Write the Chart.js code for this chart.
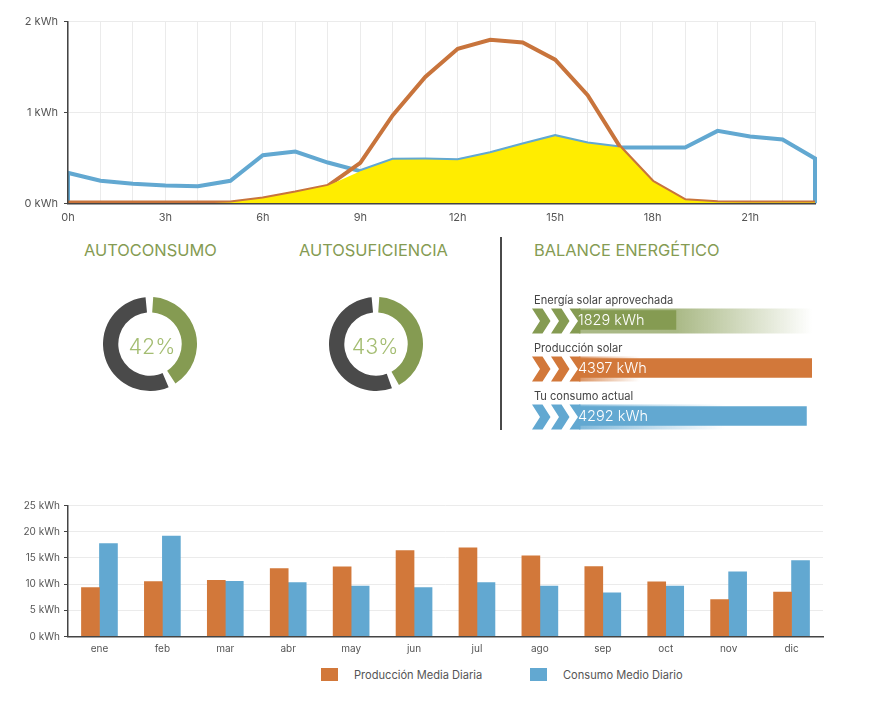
<!DOCTYPE html>
<html>
<head>
<meta charset="utf-8">
<script src="https://cdn.jsdelivr.net/npm/chart.js@4"></script>
<style>
  html, body { margin: 0; padding: 0; background: #fff; }
  #page { position: relative; width: 869px; height: 708px; overflow: hidden; font-family: Inter, sans-serif; }
  canvas { position: absolute; }
  .head { position: absolute; top: 241px; font-size: 16.4px; line-height: 19px; color: #859b52; white-space: nowrap; }
  .pct { position: absolute; top: 331px; width: 80px; text-align: center; font-size: 21.5px; line-height: 30px; font-weight: 300; color: #a4bd72; }
  #divider { position: absolute; left: 500px; top: 237px; width: 2px; height: 193px; background: #4a4a4a; }
  .lg { position: absolute; top: 668px; font-size: 11.1px; line-height: 14px; color: #555; white-space: nowrap; }
  .lg i { display: inline-block; width: 17px; height: 13px; margin-right: 16px; vertical-align: top; }
</style>
</head>
<body>
<div id="page">
  <canvas id="hourly" width="869" height="235" style="left:0;top:0"></canvas>

  <div class="head" style="left:84px">AUTOCONSUMO</div>
  <div class="head" style="left:299px">AUTOSUFICIENCIA</div>
  <div class="head" style="left:534px">BALANCE ENERGÉTICO</div>

  <canvas id="donut1" width="94" height="94" style="left:103px;top:297px"></canvas>
  <canvas id="donut2" width="94" height="94" style="left:329px;top:297px"></canvas>
  <div class="pct" style="left:112px">42%</div>
  <div class="pct" style="left:335px">43%</div>

  <div id="divider"></div>
  <canvas id="balance" width="295" height="164" style="left:525px;top:286px"></canvas>

  <canvas id="monthly" width="869" height="180" style="left:0;top:480px"></canvas>
  <div id="legend"></div>
</div>

<script>
Chart.defaults.animation = false;
Chart.defaults.responsive = false;
Chart.defaults.font.family = "Inter, sans-serif";
Chart.defaults.color = "#555";
Chart.defaults.plugins.legend.display = false;
Chart.defaults.plugins.tooltip.enabled = false;

const GREEN = "#859b52", ORANGE = "#d2783a", BLUE = "#62a8d1", DARK = "#4a4a4a";
const GRID = "#ebebeb", AXIS = "#444";

// hourly profile, kWh
const consumo = [0.337, 0.25, 0.216, 0.198, 0.19, 0.25, 0.53, 0.57, 0.45, 0.355, 0.48, 0.483,
  0.476, 0.553, 0.648, 0.74, 0.66, 0.615, 0.615, 0.615, 0.798, 0.736, 0.703, 0.495];
const produccion = [0.01, 0.01, 0.01, 0.01, 0.01, 0.01, 0.055, 0.12, 0.194, 0.447, 0.97, 1.39,
  1.7, 1.8, 1.77, 1.58, 1.19, 0.62, 0.24, 0.037, 0.015, 0.01, 0.01, 0.01];
const aprovechada = [0, 0, 0, 0, 0, 0.01, 0.055, 0.12, 0.194, 0.355, 0.48, 0.483,
  0.476, 0.553, 0.648, 0.74, 0.66, 0.615, 0.24, 0.037, 0.015, 0.01, 0.01, 0.01];

const toXY = (list) => list.map((y, x) => ({ x, y }));

new Chart(document.getElementById("hourly"), {
  type: "line",
  data: {
    datasets: [
      { data: toXY(aprovechada), borderWidth: 0, backgroundColor: "#ffed00", fill: "origin", pointRadius: 0 },
      { data: toXY(produccion), borderColor: "#c8743c", borderWidth: 4, pointRadius: 0 },
      {
        // the consumption line drops to zero at both ends
        data: [{ x: 0, y: 0 }, ...toXY(consumo), { x: 23, y: 0 }],
        borderColor: BLUE, borderWidth: 4, pointRadius: 0,
        clip: { left: 0, top: 0, right: 4, bottom: 0 },
      },
    ],
  },
  options: {
    layout: { padding: { top: 21.5, right: 54 } },
    scales: {
      x: {
        type: "linear", min: 0, max: 23,
        afterFit: (s) => { s.height = 31.5; },
        border: { color: AXIS, width: 1.5, z: 1 },
        grid: { color: GRID, drawTicks: false },
        ticks: {
          stepSize: 1, autoSkip: false, maxRotation: 0, padding: 8, font: { size: 11 },
          callback: (v) => (v % 3 === 0 ? v + "h" : ""),
        },
      },
      y: {
        min: 0, max: 2,
        afterFit: (s) => { s.width = 68; },
        border: { color: AXIS, width: 1.5, z: 1 },
        grid: { color: GRID, tickColor: AXIS, tickLength: 4 },
        ticks: { stepSize: 1, padding: 6, font: { size: 11 }, callback: (v) => v + " kWh" },
      },
    },
  },
});

function drawDonut(id, pct) {
  new Chart(document.getElementById(id), {
    type: "doughnut",
    data: { datasets: [{ data: [pct, 100 - pct], backgroundColor: [GREEN, DARK], borderWidth: 0, spacing: 4 }] },
    options: { cutout: "66%" },
  });
}
drawDonut("donut1", 42);
drawDonut("donut2", 43);

// chevrons, faded strips and bar captions for the balance bars
const FADE = [
  { rgb: "133,155,82", from: 676, to: 812, alpha: 0.7 },
  { rgb: "210,120,58", from: 579, to: 640, alpha: 0.8 },
  { rgb: "98,168,209", from: 579, to: 725, alpha: 0.8 },
];
const CANVAS_X = 525;
const balanceDeco = {
  id: "balanceDeco",
  beforeDatasetsDraw(chart) {
    const { ctx } = chart;
    chart.getDatasetMeta(0).data.forEach((bar, i) => {
      const top = bar.y - 11.5;
      const h = 25;
      const f = FADE[i];
      const g = ctx.createLinearGradient(f.from - CANVAS_X, 0, f.to - CANVAS_X, 0);
      g.addColorStop(0, `rgba(${f.rgb},${f.alpha})`);
      g.addColorStop(1, `rgba(${f.rgb},0)`);
      ctx.fillStyle = g;
      ctx.fillRect(chart.chartArea.left, top, chart.chartArea.width, h);

      ctx.fillStyle = `rgb(${f.rgb})`;
      [532, 551].forEach((x0) => {
        const x = x0 - CANVAS_X;
        ctx.beginPath();
        ctx.moveTo(x, top);
        ctx.lineTo(x + 10.5, top);
        ctx.lineTo(x + 18.5, top + h / 2);
        ctx.lineTo(x + 10.5, top + h);
        ctx.lineTo(x, top + h);
        ctx.lineTo(x + 8, top + h / 2);
        ctx.closePath();
        ctx.fill();
      });
      const x = 569.5 - CANVAS_X;
      ctx.beginPath();
      ctx.moveTo(x, top);
      ctx.lineTo(x + 11, top);
      ctx.lineTo(x + 11, top + h);
      ctx.lineTo(x, top + h);
      ctx.lineTo(x + 8.5, top + h / 2);
      ctx.closePath();
      ctx.fill();
    });
  },
  afterDatasetsDraw(chart) {
    const { ctx } = chart;
    const ds = chart.data.datasets[0];
    ctx.textBaseline = "middle";
    chart.getDatasetMeta(0).data.forEach((bar, i) => {
      ctx.textAlign = "left";
      ctx.font = "11.1px Inter, sans-serif";
      ctx.fillStyle = "#444";
      ctx.fillText(chart.data.labels[i], 534 - CANVAS_X, bar.y - 19);
      ctx.font = "300 14.5px Inter, sans-serif";
      ctx.fillStyle = "#fff";
      ctx.fillText(ds.data[i] + " kWh", 578 - CANVAS_X, bar.y + 1);
    });
  },
};

new Chart(document.getElementById("balance"), {
  type: "bar",
  data: {
    labels: ["Energía solar aprovechada", "Producción solar", "Tu consumo actual"],
    datasets: [{ data: [1829, 4397, 4292], backgroundColor: [GREEN, ORANGE, BLUE], barThickness: 19 }],
  },
  options: {
    indexAxis: "y",
    layout: { padding: { left: 54, right: 8, top: 10, bottom: 10 } },
    scales: {
      x: { display: false, min: 0, max: 4397 },
      y: { display: false },
    },
  },
  plugins: [balanceDeco],
});

// average daily values per month, kWh
const meses = ["ene", "feb", "mar", "abr", "may", "jun", "jul", "ago", "sep", "oct", "nov", "dic"];
const prodMedia = [9.35, 10.5, 10.7, 12.98, 13.3, 16.4, 16.9, 15.4, 13.35, 10.43, 7.06, 8.46];
const consMedio = [17.75, 19.15, 10.55, 10.3, 9.6, 9.35, 10.3, 9.6, 8.33, 9.6, 12.34, 14.5];

const monthly = new Chart(document.getElementById("monthly"), {
  type: "bar",
  data: {
    labels: meses,
    datasets: [
      { label: "Producción Media Diaria", data: prodMedia, backgroundColor: ORANGE, barThickness: 18 },
      { label: "Consumo Medio Diario", data: consMedio, backgroundColor: BLUE, barThickness: 18 },
    ],
  },
  options: {
    layout: { padding: { top: 25.5, right: 46 } },
    scales: {
      x: {
        afterFit: (s) => { s.height = 23.5; },
        border: { color: AXIS, width: 1.5, z: 1 },
        grid: { display: false, drawTicks: false },
        ticks: { maxRotation: 0, padding: 6, font: { size: 10 } },
      },
      y: {
        min: 0, max: 25,
        afterFit: (s) => { s.width = 68; },
        border: { color: AXIS, width: 1.5, z: 1 },
        grid: { color: GRID, tickColor: AXIS, tickLength: 4 },
        ticks: { stepSize: 5, padding: 4, font: { size: 10 }, callback: (v) => v + " kWh" },
      },
    },
  },
});

const legendX = [321, 530];
monthly.data.datasets.forEach((ds, i) => {
  const el = document.createElement("div");
  el.className = "lg";
  el.style.left = legendX[i] + "px";
  el.innerHTML = `<i style="background:${ds.backgroundColor}"></i>${ds.label}`;
  document.getElementById("legend").appendChild(el);
});
</script>
</body>
</html>
